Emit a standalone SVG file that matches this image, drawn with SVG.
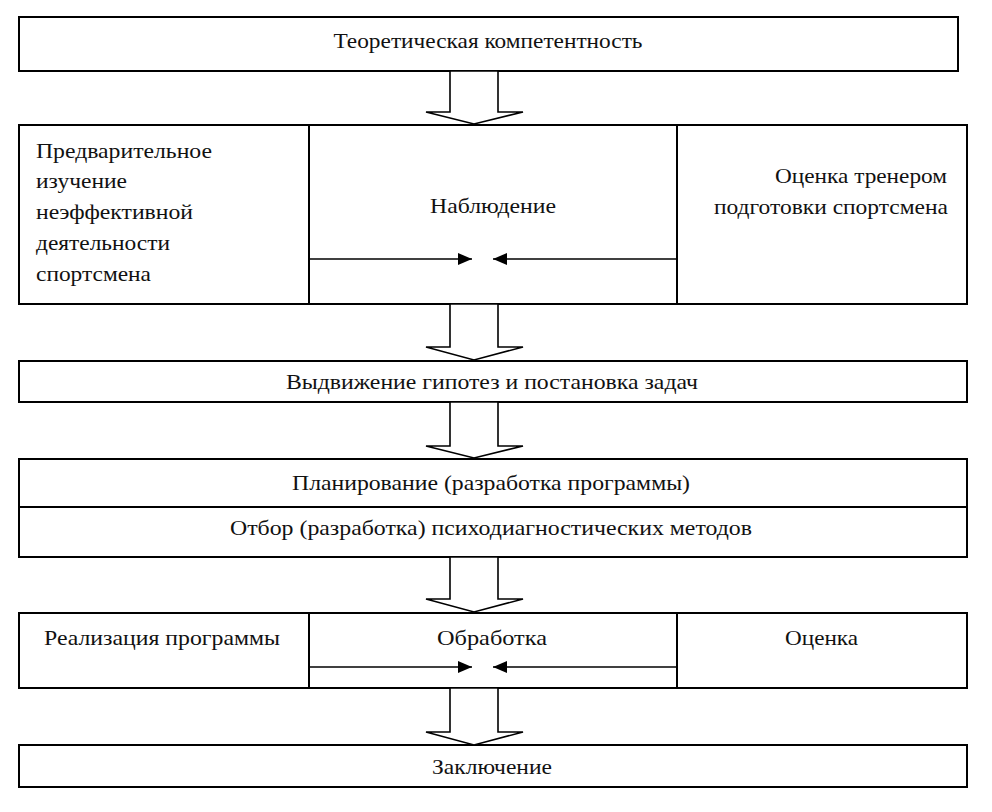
<svg xmlns="http://www.w3.org/2000/svg" width="992" height="812" viewBox="0 0 992 812">
<style>
.box{fill:#fff;stroke:#000;stroke-width:2}
.ba{fill:#fff;stroke:#000;stroke-width:1.6;stroke-linejoin:miter}
.ln{stroke:#000;stroke-width:1.6;fill:none}
</style>
<defs>
<marker id="ah" markerUnits="userSpaceOnUse" markerWidth="16" markerHeight="14" refX="14" refY="6" orient="auto">
<path d="M0,0 L14,6 L0,12 Z" fill="#000"/>
</marker>
</defs>
<rect width="992" height="812" fill="#fff"/>
<g font-family="'Liberation Serif', 'DejaVu Serif', serif" font-size="21" fill="#111" lengthAdjust="spacingAndGlyphs">
<g id="n1">
<rect class="box" x="19" y="17" width="939" height="54"/>
<text x="488" y="48" text-anchor="middle" textLength="309" lengthAdjust="spacingAndGlyphs">Теоретическая компетентность</text>
</g>

<g id="n2a">
<rect class="box" x="19" y="125" width="290" height="179"/>
<text x="36" y="158" textLength="176" lengthAdjust="spacingAndGlyphs">Предварительное</text>
<text x="36" y="188" textLength="91" lengthAdjust="spacingAndGlyphs">изучение</text>
<text x="36" y="219" textLength="157" lengthAdjust="spacingAndGlyphs">неэффективной</text>
<text x="36" y="250" textLength="134" lengthAdjust="spacingAndGlyphs">деятельности</text>
<text x="36" y="281" textLength="115" lengthAdjust="spacingAndGlyphs">спортсмена</text>
</g>
<g id="n2b">
<rect class="box" x="309" y="125" width="368" height="179"/>
<text x="430" y="213" textLength="126" lengthAdjust="spacingAndGlyphs">Наблюдение</text>
</g>
<g id="n2c">
<rect class="box" x="677" y="125" width="290" height="179"/>
<text x="775" y="183" textLength="172" lengthAdjust="spacingAndGlyphs">Оценка тренером</text>
<text x="714" y="214" textLength="234" lengthAdjust="spacingAndGlyphs">подготовки спортсмена</text>
</g>

<g id="n3">
<rect class="box" x="19" y="361" width="948" height="41"/>
<text x="286" y="389" textLength="412" lengthAdjust="spacingAndGlyphs">Выдвижение гипотез  и постановка задач</text>
</g>

<g id="n4a">
<rect class="box" x="19" y="459" width="948" height="48"/>
<text x="292" y="490" textLength="398" lengthAdjust="spacingAndGlyphs">Планирование (разработка программы)</text>
</g>
<g id="n4b">
<rect class="box" x="19" y="507" width="948" height="50"/>
<text x="230" y="535" textLength="522" lengthAdjust="spacingAndGlyphs">Отбор (разработка) психодиагностических  методов</text>
</g>

<g id="n5a">
<rect class="box" x="19" y="613" width="290" height="75"/>
<text x="44" y="645" textLength="236" lengthAdjust="spacingAndGlyphs">Реализация программы</text>
</g>
<g id="n5b">
<rect class="box" x="309" y="613" width="368" height="75"/>
<text x="437" y="645" textLength="110" lengthAdjust="spacingAndGlyphs">Обработка</text>
</g>
<g id="n5c">
<rect class="box" x="677" y="613" width="290" height="75"/>
<text x="785" y="645" textLength="73" lengthAdjust="spacingAndGlyphs">Оценка</text>
</g>

<g id="n6">
<rect class="box" x="19" y="745" width="948" height="42"/>
<text x="432" y="774" textLength="120" lengthAdjust="spacingAndGlyphs">Заключение</text>
</g>
</g>
<g id="connectors">
<polygon class="ba" points="450,71 450,112 426,112 474,124 523,112 498,112 498,71"/>
<polygon class="ba" points="450,304 450,347 426,347 474,360 523,347 498,347 498,304"/>
<polygon class="ba" points="450,402 450,446 426,446 474,458 523,446 498,446 498,402"/>
<polygon class="ba" points="450,557 450,599 426,599 474,612 523,599 498,599 498,557"/>
<polygon class="ba" points="450,688 450,732 426,732 474,745 523,732 498,732 498,688"/>
<line class="ln" x1="309" y1="259" x2="472" y2="259" marker-end="url(#ah)"/>
<line class="ln" x1="677" y1="259" x2="493" y2="259" marker-end="url(#ah)"/>
<line class="ln" x1="309" y1="667" x2="472" y2="667" marker-end="url(#ah)"/>
<line class="ln" x1="677" y1="667" x2="493" y2="667" marker-end="url(#ah)"/>
</g>
</svg>
